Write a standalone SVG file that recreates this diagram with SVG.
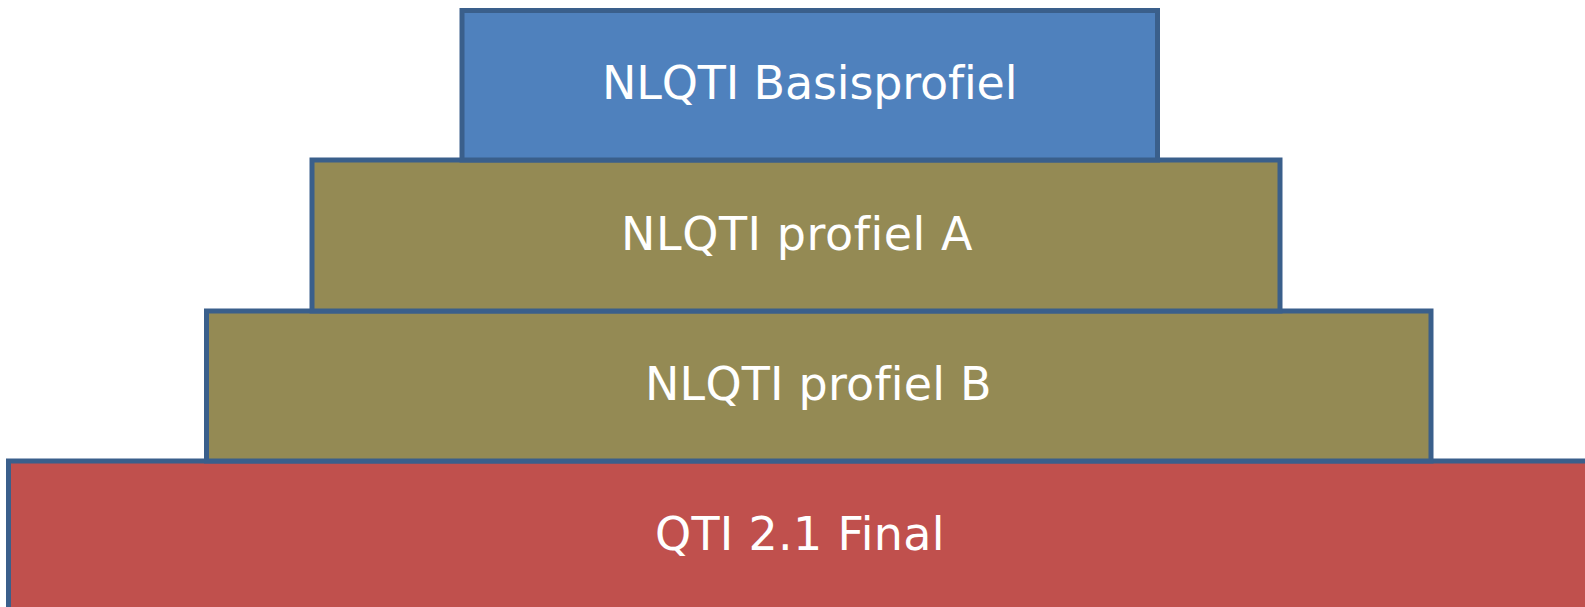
<svg xmlns="http://www.w3.org/2000/svg" width="1585" height="607" viewBox="0 0 1585 607">
<style>
.box{stroke:#3A5F8B;stroke-width:5;stroke-linejoin:miter}
.blue{fill:#4F81BD}
.olive{fill:#948A54}
.red{fill:#C0504D}
.lbl{font-family:"DejaVu Sans","Liberation Sans",sans-serif;font-size:46px;fill:#FFFFFF;text-anchor:middle;letter-spacing:0.5px;font-variant-ligatures:none;font-feature-settings:"liga" 0}
</style>
<rect width="1585" height="607" fill="#FFFFFF"/>
<g id="qti-final">
<rect class="box red" x="8.5" y="461" width="1583" height="160"/>
<text class="lbl" x="800" y="549.5" textLength="290" lengthAdjust="spacing">QTI 2.1 Final</text>
</g>
<g id="profiel-b">
<rect class="box olive" x="206.5" y="311" width="1224.5" height="150"/>
<text class="lbl" x="818.5" y="399.5" textLength="347" lengthAdjust="spacing">NLQTI profiel B</text>
</g>
<g id="profiel-a">
<rect class="box olive" x="312" y="160" width="968" height="151"/>
<text class="lbl" x="797" y="249.5" textLength="352" lengthAdjust="spacing">NLQTI profiel A</text>
</g>
<g id="basisprofiel">
<rect class="box blue" x="462" y="10.5" width="695.5" height="149.5"/>
<text class="lbl" x="810" y="98.5" textLength="416" lengthAdjust="spacing">NLQTI Basisprofiel</text>
</g>
<g id="connectors"></g>
</svg>
